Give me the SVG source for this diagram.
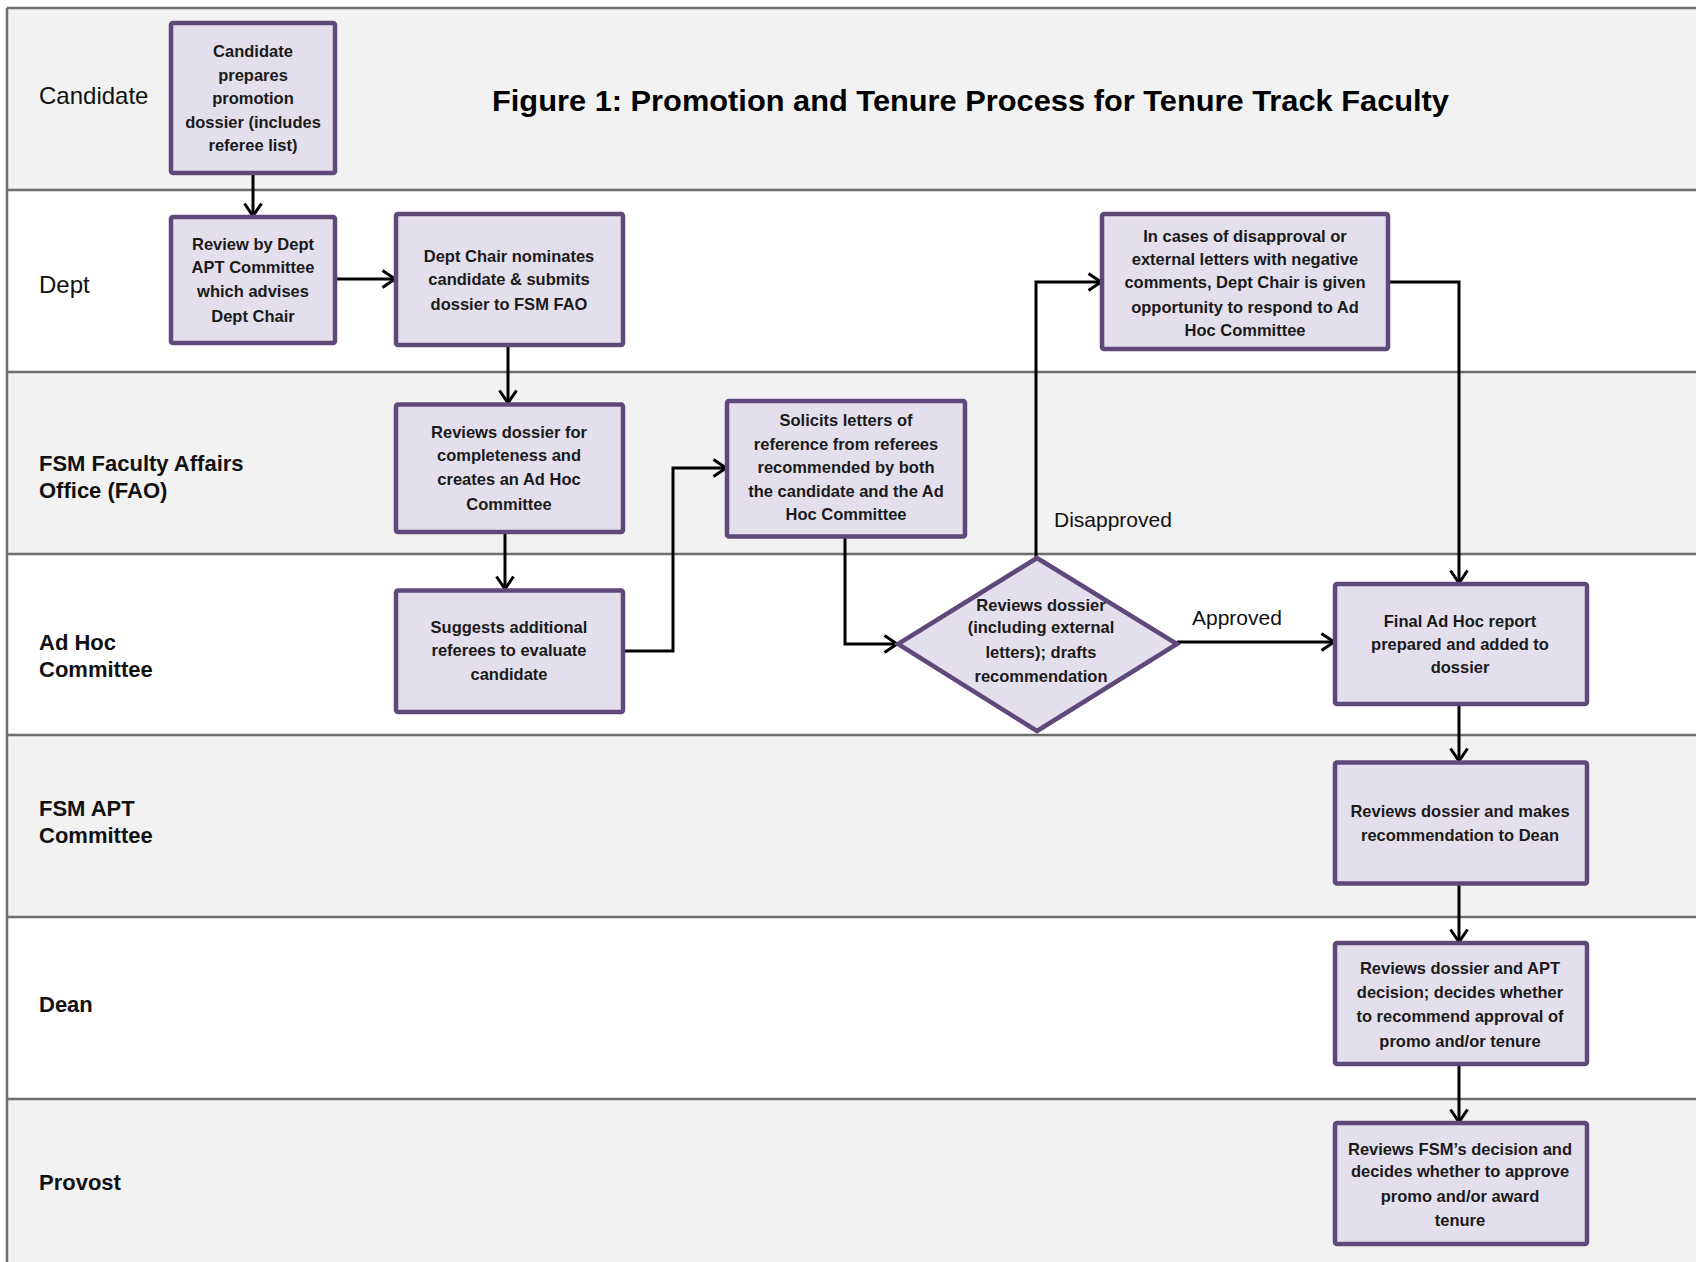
<svg xmlns="http://www.w3.org/2000/svg" width="1696" height="1262" viewBox="0 0 1696 1262">
<defs>
<style>
.lane-shade{fill:#f2f2f2}
.lane-white{fill:#ffffff}
.lane-line{stroke:#6e6e6e;stroke-width:2.5;fill:none}
.lane-label{font-family:"Liberation Sans",Arial,sans-serif;font-size:22px;font-weight:bold;fill:#111}
.lane-label2{font-family:"Liberation Sans",Arial,sans-serif;font-size:24px;fill:#111}
.title{font-family:"Liberation Sans",Arial,sans-serif;font-size:29px;font-weight:bold;fill:#000}
.box{fill:#e4dfec;stroke:#5f497a;stroke-width:4.5}
.ntext{font-family:"Liberation Sans",Arial,sans-serif;font-size:16.5px;font-weight:bold;fill:#1a1a1a;text-anchor:middle;dominant-baseline:central}
.conn{stroke:#000;stroke-width:3;fill:none;marker-end:url(#arr)}
.elabel{font-family:"Liberation Sans",Arial,sans-serif;font-size:21px;fill:#111;dominant-baseline:central}
</style>
<marker id="arr" markerUnits="userSpaceOnUse" markerWidth="16" markerHeight="20" viewBox="0 0 16 20" refX="14" refY="10" orient="auto">
<path d="M1.5,1.5 L14,10 L1.5,18.5" fill="none" stroke="#000" stroke-width="3"/>
</marker>
</defs>

<g id="lanes">
<rect class="lane-shade" x="7" y="8" width="1689" height="182"/>
<rect class="lane-white" x="7" y="190" width="1689" height="182"/>
<rect class="lane-shade" x="7" y="372" width="1689" height="182"/>
<rect class="lane-white" x="7" y="554" width="1689" height="181"/>
<rect class="lane-shade" x="7" y="735" width="1689" height="182"/>
<rect class="lane-white" x="7" y="917" width="1689" height="182"/>
<rect class="lane-shade" x="7" y="1099" width="1689" height="163"/>
<path class="lane-line" d="M7,8 H1696 M7,190 H1696 M7,372 H1696 M7,554 H1696 M7,735 H1696 M7,917 H1696 M7,1099 H1696 M7,8 V1262"/>
<text class="lane-label2" x="39" y="104">Candidate</text>
<text class="lane-label2" x="39" y="293">Dept</text>
<text class="lane-label" x="39" y="471">FSM Faculty Affairs</text>
<text class="lane-label" x="39" y="498">Office (FAO)</text>
<text class="lane-label" x="39" y="650">Ad Hoc</text>
<text class="lane-label" x="39" y="677">Committee</text>
<text class="lane-label" x="39" y="816">FSM APT</text>
<text class="lane-label" x="39" y="843">Committee</text>
<text class="lane-label" x="39" y="1012">Dean</text>
<text class="lane-label" x="39" y="1190">Provost</text>
</g>

<text class="title" x="492" y="111" textLength="957" lengthAdjust="spacingAndGlyphs">Figure 1: Promotion and Tenure Process for Tenure Track Faculty</text>

<g id="connectors">
<path class="conn" d="M253,173 V216"/>
<path class="conn" d="M335,279 H395"/>
<path class="conn" d="M508,345 V403"/>
<path class="conn" d="M505,532 V589"/>
<path class="conn" d="M623,651 H673 V468 H726"/>
<path class="conn" d="M845,536 V644 H897"/>
<path class="conn" d="M1036,558 V282 H1101"/>
<path class="conn" d="M1388,282 H1459 V583"/>
<path class="conn" d="M1177,642 H1334"/>
<path class="conn" d="M1459,704 V761"/>
<path class="conn" d="M1459,884 V942"/>
<path class="conn" d="M1459,1064 V1122"/>
<text class="elabel" x="1054" y="519">Disapproved</text>
<text class="elabel" x="1192" y="617">Approved</text>
</g>

<g id="n1">
<rect class="box" x="171" y="23" width="164" height="150" rx="2"/>
<text class="ntext"><tspan x="253" y="51">Candidate</tspan><tspan x="253" y="74.6">prepares</tspan><tspan x="253" y="98.4">promotion</tspan><tspan x="253" y="122.2">dossier (includes</tspan><tspan x="253" y="145">referee list)</tspan></text>
</g>
<g id="n2">
<rect class="box" x="171" y="217" width="164" height="126" rx="2"/>
<text class="ntext"><tspan x="253" y="244.4">Review by Dept</tspan><tspan x="253" y="267">APT Committee</tspan><tspan x="253" y="291">which advises</tspan><tspan x="253" y="315.8">Dept Chair</tspan></text>
</g>
<g id="n3">
<rect class="box" x="396" y="214" width="227" height="131" rx="2"/>
<text class="ntext"><tspan x="509" y="256">Dept Chair  nominates</tspan><tspan x="509" y="279">candidate  &amp; submits</tspan><tspan x="509" y="304">dossier  to FSM FAO</tspan></text>
</g>
<g id="n4">
<rect class="box" x="396" y="404.5" width="227" height="127.5" rx="2"/>
<text class="ntext"><tspan x="509" y="431.5">Reviews  dossier for</tspan><tspan x="509" y="455">completeness and</tspan><tspan x="509" y="479">creates an Ad Hoc</tspan><tspan x="509" y="504">Committee</tspan></text>
</g>
<g id="n5">
<rect class="box" x="396" y="590.5" width="227" height="121.5" rx="2"/>
<text class="ntext"><tspan x="509" y="627">Suggests  additional</tspan><tspan x="509" y="650">referees to evaluate</tspan><tspan x="509" y="674">candidate</tspan></text>
</g>
<g id="n6">
<rect class="box" x="727" y="401" width="238" height="135.5" rx="2"/>
<text class="ntext"><tspan x="846" y="419.6">Solicits letters of</tspan><tspan x="846" y="443.5">reference from  referees</tspan><tspan x="846" y="467">recommended by both</tspan><tspan x="846" y="491">the candidate  and the Ad</tspan><tspan x="846" y="514">Hoc Committee</tspan></text>
</g>
<g id="n7">
<polygon class="box" points="1037,558 1177,644 1037,731 898,644"/>
<text class="ntext"><tspan x="1041" y="604.6">Reviews  dossier</tspan><tspan x="1041" y="627.3">(including external</tspan><tspan x="1041" y="652.2">letters); drafts</tspan><tspan x="1041" y="676">recommendation</tspan></text>
</g>
<g id="n8">
<rect class="box" x="1102" y="214" width="286" height="135" rx="2"/>
<text class="ntext"><tspan x="1245" y="235.8">In cases of disapproval  or</tspan><tspan x="1245" y="258.5">external letters with negative</tspan><tspan x="1245" y="282.3">comments,  Dept Chair  is given</tspan><tspan x="1245" y="307.2">opportunity  to respond  to Ad</tspan><tspan x="1245" y="330">Hoc Committee</tspan></text>
</g>
<g id="n9">
<rect class="box" x="1335" y="584" width="252" height="120" rx="2"/>
<text class="ntext"><tspan x="1460" y="621">Final Ad Hoc report</tspan><tspan x="1460" y="643.6">prepared and  added to</tspan><tspan x="1460" y="667.3">dossier</tspan></text>
</g>
<g id="n10">
<rect class="box" x="1335" y="762.5" width="252" height="121" rx="2"/>
<text class="ntext"><tspan x="1460" y="811">Reviews  dossier and  makes</tspan><tspan x="1460" y="835">recommendation  to Dean</tspan></text>
</g>
<g id="n11">
<rect class="box" x="1335" y="943" width="252" height="121" rx="2"/>
<text class="ntext"><tspan x="1460" y="968">Reviews  dossier and  APT</tspan><tspan x="1460" y="992">decision; decides whether</tspan><tspan x="1460" y="1015.6">to recommend approval  of</tspan><tspan x="1460" y="1040.5">promo and/or  tenure</tspan></text>
</g>
<g id="n12">
<rect class="box" x="1335" y="1123" width="252" height="121" rx="2"/>
<text class="ntext"><tspan x="1460" y="1148.6">Reviews  FSM’s decision and</tspan><tspan x="1460" y="1171.4">decides whether to approve</tspan><tspan x="1460" y="1196">promo  and/or  award</tspan><tspan x="1460" y="1220">tenure</tspan></text>
</g>
</svg>
